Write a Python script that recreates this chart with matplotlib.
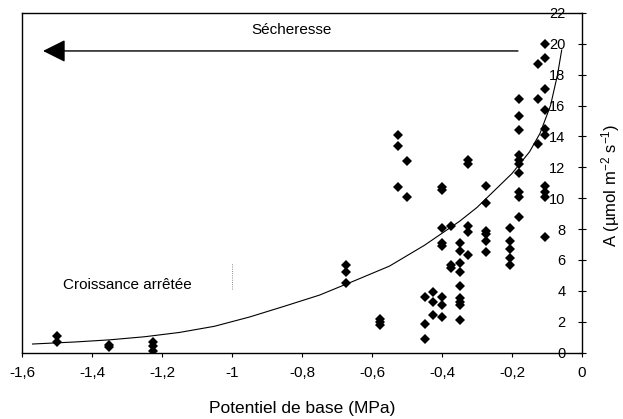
import numpy as np
import matplotlib
matplotlib.use("Agg")
import matplotlib.pyplot as plt

plt.rcParams['font.family'] = ['Liberation Sans', 'DejaVu Sans']
plt.rcParams['mathtext.default'] = 'regular'

# -----------------------------
# Data
# -----------------------------
# base water potential (MPa) and net assimilation A (umol m-2 s-1)
psi_base = ([-1.50] * 2 + [-1.35] * 2 + [-1.225] * 3 + [-0.675] * 3 + [-0.577] * 3
            + [-0.525] * 3 + [-0.50] * 2 + [-0.45] * 3 + [-0.425] * 3 + [-0.40] * 8
            + [-0.375] * 3 + [-0.35] * 9 + [-0.325] * 5 + [-0.275] * 6 + [-0.205] * 5
            + [-0.18] * 10 + [-0.125] * 3 + [-0.105] * 10)
assim = [1.05, 0.65,
         0.5, 0.35,
         0.7, 0.4, 0.1,
         5.7, 5.2, 4.5,
         2.2, 2.0, 1.8,
         14.1, 13.4, 10.7,
         12.4, 10.05,
         3.6, 1.85, 0.85,
         3.9, 3.3, 2.4,
         10.7, 10.5, 8.1, 7.1, 6.9, 3.6, 3.1, 2.3,
         8.2, 5.7, 5.5,
         7.1, 6.6, 5.8, 5.2, 4.3, 3.5, 3.3, 3.1, 2.1,
         12.5, 12.2, 8.2, 7.8, 6.3,
         10.8, 9.7, 7.9, 7.7, 7.2, 6.5,
         8.1, 7.25, 6.7, 6.15, 5.65,
         16.4, 15.3, 14.4, 12.8, 12.5, 12.2, 11.6, 10.4, 10.05, 8.8,
         18.7, 16.4, 13.5,
         20.0, 19.1, 17.1, 15.7, 14.5, 14.1, 10.8, 10.4, 10.1, 7.5]

# trend curve
curve_x = [-1.57, -1.45, -1.35, -1.25, -1.15, -1.05, -0.95, -0.85, -0.75, -0.65,
           -0.55, -0.45, -0.35, -0.30, -0.25, -0.20, -0.15, -0.12, -0.09, -0.07, -0.058]
curve_y = [0.55, 0.68, 0.82, 1.02, 1.3, 1.7, 2.3, 3.0, 3.72, 4.65,
           5.6, 6.95, 8.5, 9.4, 10.5, 11.6, 13.0, 14.2, 16.0, 18.0, 19.6]

xticks = [-1.6, -1.4, -1.2, -1.0, -0.8, -0.6, -0.4, -0.2, 0.0]
xtick_labels = ["-1,6", "-1,4", "-1,2", "-1", "-0,8", "-0,6", "-0,4", "-0,2", "0"]
yticks = list(range(0, 23, 2))

# -----------------------------
# Figure
# -----------------------------
fig = plt.figure(figsize=(6.23, 4.19), dpi=100)
ax = fig.add_axes([0.0353, 0.1587, 0.8989, 0.8103])

ax.plot(psi_base, assim, linestyle="none", marker="D", markersize=5.5,
        color="black", markeredgewidth=0)
ax.plot(curve_x, curve_y, color="black", linewidth=0.8)

# drought arrow
ax.annotate("", xy=(-1.54, 19.54), xytext=(-0.183, 19.54),
            arrowprops=dict(arrowstyle="-|>,head_length=1.4,head_width=0.7",
                            mutation_scale=10, color="black", lw=1.0,
                            shrinkA=0, shrinkB=0))
ax.text(-0.83, 20.9, "Sécheresse", fontsize=11, ha="center", va="center")
ax.text(-1.30, 4.37, "Croissance arrêtée", fontsize=11, ha="center", va="center")

# faint dotted scan mark
ax.plot([-1.0, -1.0], [4.1, 5.8], color="0.4", linestyle=":", linewidth=0.6)

ax.set_xlim(-1.6, 0)
ax.set_ylim(0, 22)
ax.set_xticks(xticks)
ax.set_xticklabels(xtick_labels)
ax.set_yticks(yticks)

ax.tick_params(axis="x", direction="out", length=3, width=0.8, pad=7, labelsize=11)
ax.yaxis.tick_right()
ax.tick_params(axis="y", direction="inout", length=6, width=0.8, pad=-15,
               labelsize=10.5, labelright=True, labelleft=False)
plt.setp(ax.get_yticklabels(), ha="right")

for sp in ax.spines.values():
    sp.set_linewidth(1.0)

ax.set_xlabel("Potentiel de base (MPa)", fontsize=12.5, labelpad=15)
fig.text(0.980, 0.558, "A (µmol m$^{-2}$ s$^{-1}$)", rotation=90,
         fontsize=12, ha="center", va="center")

fig.savefig("out.png", dpi=100)
